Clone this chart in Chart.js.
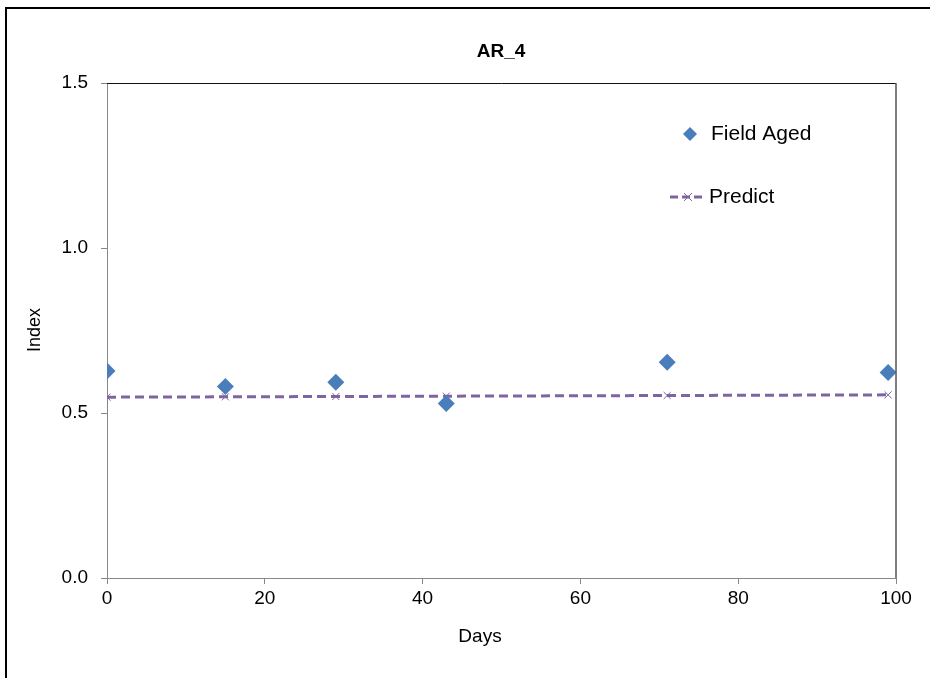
<!DOCTYPE html>
<html>
<head>
<meta charset="utf-8">
<script src="https://cdn.jsdelivr.net/npm/chart.js@4"></script>
<style>
  html, body { margin: 0; padding: 0; background: #fff; }
  #wrap { position: relative; width: 930px; height: 678px; overflow: hidden; }
  #frame { position: absolute; left: 5px; top: 7px; width: 1000px; height: 800px;
           border-left: 2px solid #000; border-top: 2px solid #000; box-sizing: border-box; }
  canvas { position: absolute; left: 0; top: 0; }
</style>
</head>
<body>
<div id="wrap">
  <div id="frame"></div>
  <canvas id="c" width="930" height="678"></canvas>
</div>
<script>
// Sampling days
const days = [0, 15, 29, 43, 71, 99];
// Measured index of the field-aged samples
const fieldAged = [0.627, 0.580, 0.593, 0.529, 0.654, 0.623];
// Model prediction at the same days
const predict = [0.548, 0.549, 0.550, 0.551, 0.553, 0.555];
// Axis ticks
const xTicks = [0, 20, 40, 60, 80, 100];
const yTicks = [0, 0.5, 1.0, 1.5];

const FONT = '"Liberation Sans", Arial, sans-serif';
const BLUE = '#4A7EBB';
const PURPLE = '#8064A2';

// Title, axis titles, plot frame and in-plot legend
const decor = {
  id: 'decor',
  afterDraw(chart) {
    const ctx = chart.ctx;
    const a = chart.chartArea;
    ctx.save();
    // plot frame: top and right edges
    ctx.strokeStyle = '#111';
    ctx.lineWidth = 1;
    ctx.beginPath();
    ctx.moveTo(a.left, a.top + 0.5);
    ctx.lineTo(a.right, a.top + 0.5);
    ctx.stroke();
    ctx.strokeStyle = '#555';
    ctx.lineWidth = 1.5;
    ctx.beginPath();
    ctx.moveTo(a.right, a.top);
    ctx.lineTo(a.right, a.bottom);
    ctx.stroke();

    ctx.fillStyle = '#000';
    ctx.textBaseline = 'middle';
    ctx.textAlign = 'center';
    ctx.font = 'bold 19px ' + FONT;
    ctx.fillText('AR_4', 501, 52);
    ctx.font = '19px ' + FONT;
    ctx.fillText('Days', 480, 637);
    ctx.save();
    ctx.translate(35, 330);
    ctx.rotate(-Math.PI / 2);
    ctx.font = '18px ' + FONT;
    ctx.fillText('Index', 0, 0);
    ctx.restore();

    // legend
    ctx.font = '21px ' + FONT;
    ctx.textAlign = 'left';
    ctx.fillStyle = BLUE;
    ctx.beginPath();
    ctx.moveTo(690, 127); ctx.lineTo(697, 134); ctx.lineTo(690, 141); ctx.lineTo(683, 134);
    ctx.closePath();
    ctx.fill();
    ctx.fillStyle = '#000';
    ctx.fillText('Field Aged', 711, 134);

    ctx.strokeStyle = PURPLE;
    ctx.lineWidth = 3;
    ctx.setLineDash([8, 4]);
    ctx.beginPath();
    ctx.moveTo(670, 197); ctx.lineTo(706, 197);
    ctx.stroke();
    ctx.setLineDash([]);
    ctx.lineWidth = 1;
    ctx.beginPath();
    ctx.moveTo(684, 193); ctx.lineTo(692, 201);
    ctx.moveTo(692, 193); ctx.lineTo(684, 201);
    ctx.stroke();
    ctx.fillStyle = '#000';
    ctx.fillText('Predict', 709, 197);
    ctx.restore();
  }
};

new Chart(document.getElementById('c'), {
  type: 'scatter',
  data: {
    datasets: [
      {
        label: 'Predict',
        data: days.map((d, i) => ({ x: d, y: predict[i] })),
        showLine: true,
        borderColor: PURPLE,
        borderWidth: 3,
        borderDash: [9, 5],
        pointStyle: 'crossRot',
        pointRadius: 5,
        pointBorderWidth: 1,
        pointBorderColor: PURPLE,
        pointBackgroundColor: PURPLE,
        order: 2
      },
      {
        label: 'Field Aged',
        data: days.map((d, i) => ({ x: d, y: fieldAged[i] })),
        pointStyle: 'rectRot',
        pointRadius: 8.5,
        pointBorderWidth: 0,
        pointBackgroundColor: BLUE,
        pointBorderColor: BLUE,
        order: 1
      }
    ]
  },
  options: {
    responsive: false,
    animation: false,
    events: [],
    layout: { padding: { left: 0, top: 83, right: 34, bottom: 0 } },
    plugins: { legend: { display: false }, title: { display: false }, tooltip: { enabled: false } },
    scales: {
      x: {
        type: 'linear',
        min: 0, max: 100,
        afterFit(s) { s.height = 100; },
        afterBuildTicks(s) { s.ticks = xTicks.map(v => ({ value: v })); },
        ticks: { color: '#000', font: { family: FONT, size: 19 }, padding: 3, maxRotation: 0 },
        grid: { drawOnChartArea: false, drawTicks: true, tickLength: 6, color: '#888' },
        border: { color: '#888', width: 1 }
      },
      y: {
        min: 0, max: 1.5,
        afterFit(s) { s.width = 107; },
        afterBuildTicks(s) { s.ticks = yTicks.map(v => ({ value: v })); },
        ticks: { color: '#000', font: { family: FONT, size: 19 }, padding: 13,
                 callback: v => Number(v).toFixed(1) },
        grid: { drawOnChartArea: false, drawTicks: true, tickLength: 6, color: '#888' },
        border: { color: '#888', width: 1 }
      }
    }
  },
  plugins: [decor]
});
</script>
</body>
</html>
